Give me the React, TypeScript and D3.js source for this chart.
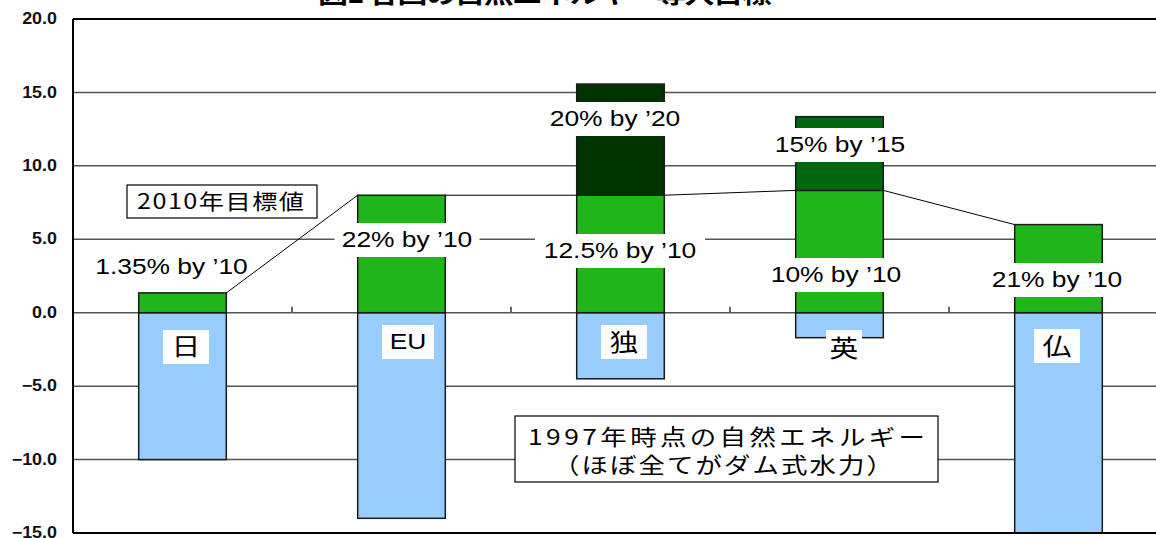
import React from "react";
import * as d3 from "d3";

// ---- data ----
const categories = ["日", "EU", "独", "英", "仏"];
const base1997 = [-10, -14, -4.5, -1.7, -16];
const target2010 = [1.35, 8, 8, 8.33, 6];
const targetLater = [0, 0, 7.57, 5.02, 0];
const label2010 = ["1.35% by ’10", "22% by ’10", "12.5% by ’10", "10% by ’10", "21% by ’10"];
const labelLater = ["", "", "20% by ’20", "15% by ’15", ""];
const yTicks = [20, 15, 10, 5, 0, -5, -10, -15];
const title = "図1 各国の自然エネルギー導入目標";
const note2010 = "2010年目標値";
const note1997 = ["1997年時点の自然エネルギー", "（ほぼ全てがダム式水力）"];

// ---- layout / style ----
const W = 1156, H = 538;
const X0 = 73, X1 = 1168, YT = 19, YB = 533;
const SX = 1.2;
const laterFill = ["#003300", "#003300", "#003300", "#006611", "#006611"];
const lab2010Pos = [
  { x: 171.5, y: 274, w: 0 },
  { x: 407, y: 247, w: 145 },
  { x: 620, y: 258, w: 170 },
  { x: 836, y: 282, w: 146 },
  { x: 1057, y: 287, w: 147 },
];
const labLaterPos = [null, null, { x: 615, y: 126, w: 147 }, { x: 840, y: 152, w: 146 }, null];
const catPos = [
  { x: 186, y: 355, w: 46, top: 330 },
  { x: 408, y: 349, w: 52, top: 325 },
  { x: 624, y: 351, w: 46, top: 325 },
  { x: 844, y: 356.5, w: 36, top: 330 },
  { x: 1057, y: 355, w: 46, top: 329 },
];
const LATIN = "'Liberation Sans', Arial, 'Noto Sans CJK JP', sans-serif";
const CJK = "'Noto Sans CJK JP', 'Liberation Sans', sans-serif";

function Stretched(props: { x: number; y: number; w: number; size: number; family: string; weight?: string; children: string }) {
  return (
    <g transform={`translate(${props.x},${props.y}) scale(${SX},1)`}>
      <text x={0} y={0} fontFamily={props.family} fontSize={props.size} fontWeight={props.weight || "normal"} textLength={props.w / SX} lengthAdjust="spacing">
        {props.children}
      </text>
    </g>
  );
}

export default function App() {
  const y = d3.scaleLinear().domain([-15, 20]).range([YB, YT]);
  const x = d3.scaleBand<string>().domain(categories).range([X0, X1]).paddingInner(0.6).paddingOuter(0.3);
  const bw = x.bandwidth();
  const step = x.step();

  const series: string[] = [];
  for (let i = 0; i < categories.length - 1; i++) {
    const c0 = categories[i], c1 = categories[i + 1];
    series.push(
      d3.line()([
        [x(c0)! + bw, y(target2010[i])],
        [x(c1)!, y(target2010[i + 1])],
      ])!
    );
  }

  const boundaries = d3.range(1, categories.length).map((i) => X0 + step * i);

  return (
    <svg width={W} height={H} style={{ position: "absolute", left: 0, top: 0, background: "#fff" }}>
      <defs>
        <clipPath id="plot">
          <rect x={X0} y={YT} width={W - X0} height={YB - YT} />
        </clipPath>
      </defs>
      {/* title (cut off at the top edge, as in the original) */}
      <Stretched x={318} y={2.5} w={454} size={25} family={CJK} weight="bold">{title}</Stretched>
      {/* gridlines */}
      {yTicks.filter((t) => t !== 20 && t !== -15).map((t) => (
        <line key={t} x1={X0} x2={W} y1={y(t)} y2={y(t)} stroke="#555" strokeWidth={1.5} />
      ))}
      {boundaries.map((b) => (
        <line key={b} x1={b} x2={b} y1={y(0) - 6} y2={y(0)} stroke="#666" strokeWidth={2} />
      ))}
      {/* bars */}
      <g clipPath="url(#plot)">
        {categories.map((c, i) => (
          <g key={c}>
            <rect x={x(c)} y={y(0)} width={bw} height={y(base1997[i]) - y(0)} fill="#99CCFF" stroke="#1a1a1a" strokeWidth={1.5} />
            <rect x={x(c)} y={y(target2010[i])} width={bw} height={y(0) - y(target2010[i])} fill="#20B518" stroke="#1a1a1a" strokeWidth={1.5} />
            {targetLater[i] > 0 && (
              <rect
                x={x(c)}
                y={y(target2010[i] + targetLater[i])}
                width={bw}
                height={y(target2010[i]) - y(target2010[i] + targetLater[i])}
                fill={laterFill[i]}
                stroke="#1a1a1a"
                strokeWidth={1.5}
              />
            )}
          </g>
        ))}
      </g>
      {/* series lines */}
      {series.map((d, i) => (
        <path key={i} d={d} stroke="#000" strokeWidth={1} fill="none" />
      ))}
      {/* axes */}
      <line x1={X0} x2={W} y1={YT} y2={YT} stroke="#000" strokeWidth={2} />
      <line x1={X0} x2={W} y1={YB} y2={YB} stroke="#000" strokeWidth={2} />
      <line x1={X0} x2={X0} y1={YT} y2={YB} stroke="#000" strokeWidth={2} />
      {yTicks.map((t) => (
        <g key={t} transform={`translate(57,${y(t)}) scale(1.12,1)`}>
          <text textAnchor="end" dominantBaseline="central" fontFamily={LATIN} fontSize={16} fontWeight="bold" fill="#111">
            {t < 0 ? "−" + Math.abs(t).toFixed(1) : t.toFixed(1)}
          </text>
        </g>
      ))}
      {/* value labels */}
      {label2010.map((l, i) => {
        const p = lab2010Pos[i];
        return (
          <g key={"a" + i}>
            {p.w > 0 && <rect x={p.x - p.w / 2} y={p.y - 24} width={p.w} height={34} fill="#fff" />}
            <g transform={`translate(${p.x},${p.y}) scale(${SX},1)`}>
              <text textAnchor="middle" fontFamily={LATIN} fontSize={22}>{l}</text>
            </g>
          </g>
        );
      })}
      {labelLater.map((l, i) => {
        const p = labLaterPos[i];
        if (!l || !p) return null;
        return (
          <g key={"b" + i}>
            <rect x={p.x - p.w / 2} y={p.y - 24} width={p.w} height={34} fill="#fff" />
            <g transform={`translate(${p.x},${p.y}) scale(${SX},1)`}>
              <text textAnchor="middle" fontFamily={LATIN} fontSize={22}>{l}</text>
            </g>
          </g>
        );
      })}
      {/* category labels */}
      {categories.map((c, i) => {
        const p = catPos[i];
        const latin = /^[A-Z]+$/.test(c);
        return (
          <g key={"c" + i}>
            <rect x={p.x - p.w / 2} y={p.top} width={p.w} height={34} fill="#fff" />
            <g transform={`translate(${p.x},${p.y}) scale(${SX},1)`}>
              <text textAnchor="middle" fontFamily={latin ? LATIN : CJK} fontSize={latin ? 22 : 24}>{c}</text>
            </g>
          </g>
        );
      })}
      {/* notes */}
      <rect x={127} y={185} width={190} height={33} fill="#fff" stroke="#000" strokeWidth={1.2} />
      <Stretched x={137} y={209} w={167} size={21} family={CJK}>{note2010}</Stretched>
      <rect x={515} y={416} width={423} height={66} fill="#fff" stroke="#000" strokeWidth={1.2} />
      <Stretched x={528} y={445} w={397} size={22} family={CJK}>{note1997[0]}</Stretched>
      <Stretched x={553} y={473} w={340} size={22} family={CJK}>{note1997[1]}</Stretched>
    </svg>
  );
}
